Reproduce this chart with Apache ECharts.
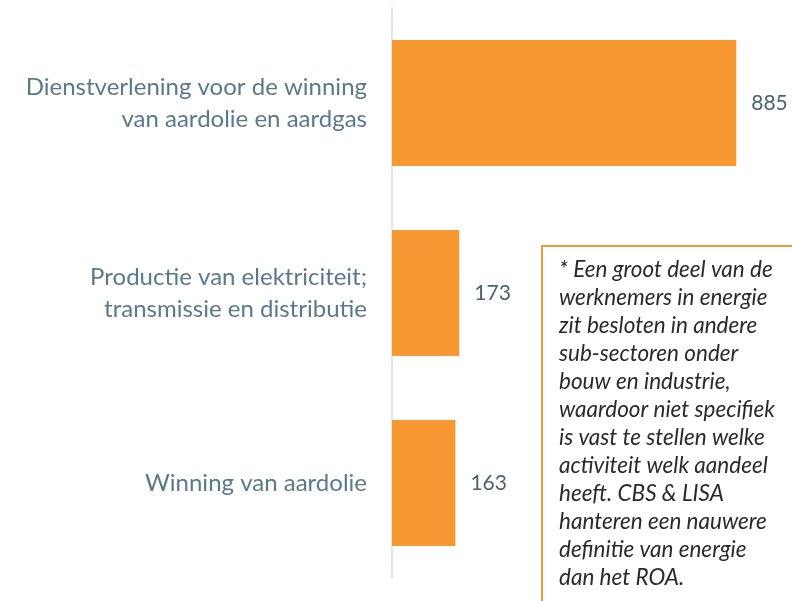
<!DOCTYPE html>
<html>
<head>
<meta charset="utf-8">
<script src="https://cdn.jsdelivr.net/npm/echarts@6/dist/echarts.min.js"></script>
<style>
  html, body { margin: 0; padding: 0; background: #fff; }
  #chart { width: 792px; height: 601px; }
</style>
</head>
<body>
<div id="chart"></div>
<script>
var categories = [
    'Dienstverlening voor de winning\nvan aardolie en aardgas',
    'Productie van elektriciteit;\ntransmissie en distributie',
    'Winning van aardolie'
];
var values = [885, 173, 163];
var noteLines = [
    '* Een groot deel van de',
    'werknemers in energie',
    'zit besloten in andere',
    'sub-sectoren onder',
    'bouw en industrie,',
    'waardoor niet specifiek',
    'is vast te stellen welke',
    'activiteit welk aandeel',
    'heeft. CBS & LISA',
    'hanteren een nauwere',
    'definitie van energie',
    'dan het ROA.'
];

var chart = echarts.init(document.getElementById('chart'));

var option = {
    animation: false,
    grid: {
        left: 392,
        right: 11,
        top: 8,
        height: 570
    },
    xAxis: {
        type: 'value',
        min: 0,
        max: 1000,
        show: false
    },
    yAxis: {
        type: 'category',
        inverse: true,
        data: categories,
        axisLine: { lineStyle: { color: '#dde6ea', width: 2 } },
        axisTick: { show: false },
        axisLabel: {
            margin: 25,
            color: '#5a7a8a',
            fontFamily: 'Lato',
            fontSize: 24,
            lineHeight: 32,
            align: 'right'
        }
    },
    series: [{
        type: 'bar',
        data: values,
        barWidth: 126,
        itemStyle: { color: '#f79833' },
        label: {
            show: true,
            position: 'right',
            distance: 15,
            color: '#4b6272',
            fontFamily: 'Lato',
            fontSize: 21
        }
    }],
    graphic: [{
        type: 'rect',
        left: 541,
        top: 245,
        shape: { width: 260, height: 370 },
        style: { fill: '#fff', stroke: '#f79833', lineWidth: 2 },
        z: 10
    }, {
        type: 'text',
        left: 559,
        top: 256,
        style: {
            text: noteLines.join('\n'),
            fill: '#2a2a2a',
            fontFamily: 'Lato',
            fontStyle: 'italic',
            fontSize: 22.5,
            lineHeight: 28
        },
        z: 11
    }]
};

chart.setOption(option);
</script>
</body>
</html>
